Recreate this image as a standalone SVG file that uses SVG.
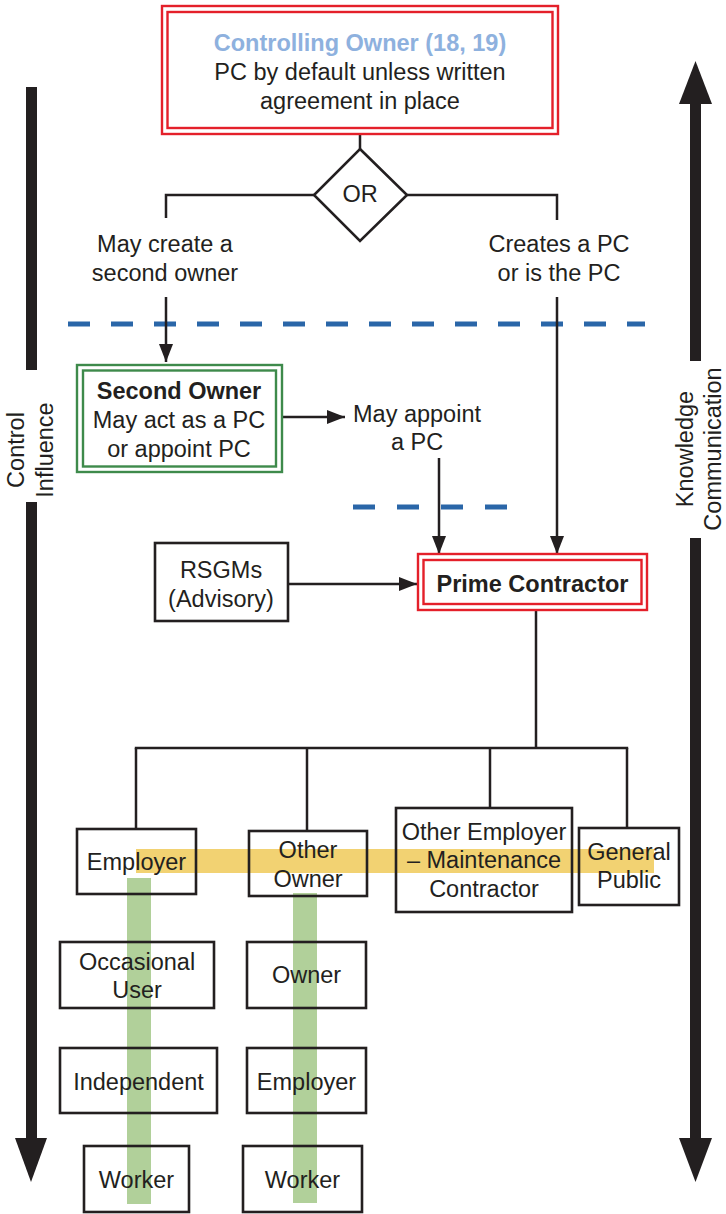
<svg xmlns="http://www.w3.org/2000/svg" width="726" height="1214" viewBox="0 0 726 1214">
  <defs>
    <style>
      text { font-family: "Liberation Sans", Arial, Helvetica, sans-serif; font-size: 23.5px; fill: #231f20; text-anchor: middle; }
      .bold { font-weight: bold; }
      .blue { fill: #8eb1de; }
      .box { fill: none; stroke: #231f20; stroke-width: 2.6; }
      .red { fill: none; stroke: #e4202a; stroke-width: 2.4; }
      .green { fill: none; stroke: #3e8a4b; stroke-width: 2.4; }
      .conn { fill: none; stroke: #231f20; stroke-width: 2.5; }
      .dash { fill: none; stroke: #2a66a8; stroke-width: 5; stroke-dasharray: 22 21; }
      .bar { fill: #231f20; }
    </style>
    <marker id="arrow" viewBox="0 0 18 14" refX="18" refY="7" markerWidth="18" markerHeight="14" markerUnits="userSpaceOnUse" orient="auto">
      <path d="M0,0 L18,7 L0,14 z" fill="#231f20"/>
    </marker>
  </defs>

  <rect width="726" height="1214" fill="#ffffff"/>

  <!-- side scale arrows -->
  <g id="control-influence-axis">
    <rect class="bar" x="26" y="87" width="11" height="283"/>
    <rect class="bar" x="26" y="502" width="11" height="638"/>
    <polygon class="bar" points="15,1138 47,1138 31,1182"/>
    <text transform="translate(24,450) rotate(-90)">Control</text>
    <text transform="translate(53,450) rotate(-90)">Influence</text>
  </g>
  <g id="knowledge-communication-axis">
    <polygon class="bar" points="679,104 712,104 695.5,61"/>
    <rect class="bar" x="690" y="103" width="11" height="258"/>
    <rect class="bar" x="690" y="538" width="11" height="602"/>
    <polygon class="bar" points="679,1138 712,1138 695.5,1182"/>
    <text transform="translate(693,449) rotate(-90)">Knowledge</text>
    <text transform="translate(721,449) rotate(-90)">Communication</text>
  </g>

  <!-- dashed boundaries -->
  <g id="boundaries">
    <line class="dash" x1="68" y1="324" x2="645" y2="324"/>
    <line class="dash" x1="353" y1="507" x2="507" y2="507" style="stroke-dasharray:22 22"/>
  </g>

  <!-- connectors -->
  <g id="connectors">
    <line class="conn" x1="360" y1="134" x2="360" y2="149"/>
    <polyline class="conn" points="314,195 166,195 166,218"/>
    <polyline class="conn" points="407,195 557,195 557,220"/>
    <line class="conn" x1="166" y1="297" x2="166" y2="362" marker-end="url(#arrow)"/>
    <line class="conn" x1="557" y1="297" x2="557" y2="554" marker-end="url(#arrow)"/>
    <line class="conn" x1="282" y1="417" x2="345" y2="417" marker-end="url(#arrow)"/>
    <line class="conn" x1="439" y1="458" x2="439" y2="554" marker-end="url(#arrow)"/>
    <line class="conn" x1="288" y1="584" x2="417" y2="584" marker-end="url(#arrow)"/>
    <line class="conn" x1="536" y1="610" x2="536" y2="748"/>
    <line class="conn" x1="134.8" y1="748" x2="628.2" y2="748"/>
    <line class="conn" x1="136" y1="748" x2="136" y2="829"/>
    <line class="conn" x1="307" y1="748" x2="307" y2="831"/>
    <line class="conn" x1="490" y1="748" x2="490" y2="808"/>
    <line class="conn" x1="627" y1="748" x2="627" y2="828"/>
  </g>

  <!-- highlight bands -->
  <g id="bands">
    <rect x="136" y="849" width="518" height="24" fill="#f2d272"/>
    <rect x="127" y="878" width="24" height="326" fill="#b1d09a"/>
    <rect x="293" y="893" width="24" height="310" fill="#b1d09a"/>
  </g>

  <!-- nodes -->
  <g id="controlling-owner">
    <rect class="red" x="162" y="6" width="396" height="128"/>
    <rect class="red" x="167.5" y="12" width="385" height="116"/>
    <text class="bold blue" x="360" y="51">Controlling Owner (18, 19)</text>
    <text x="360" y="80">PC by default unless written</text>
    <text x="360" y="109">agreement in place</text>
  </g>

  <g id="or-decision">
    <polygon class="box" points="360,149 407,195 360,241 314,195"/>
    <text x="360" y="202">OR</text>
  </g>

  <g id="label-second-owner-option">
    <text x="165" y="252">May create a</text>
    <text x="165" y="281">second owner</text>
  </g>

  <g id="label-pc-option">
    <text x="559" y="252">Creates a PC</text>
    <text x="559" y="281">or is the PC</text>
  </g>

  <g id="second-owner">
    <rect class="green" x="77" y="365" width="205" height="107"/>
    <rect class="green" x="83" y="370.5" width="193" height="96"/>
    <text class="bold" x="179" y="399">Second Owner</text>
    <text x="179" y="428">May act as a PC</text>
    <text x="179" y="457">or appoint PC</text>
  </g>

  <g id="label-may-appoint">
    <text x="417" y="422">May appoint</text>
    <text x="417" y="450">a PC</text>
  </g>

  <g id="rsgms">
    <rect class="box" x="155" y="543" width="133" height="78"/>
    <text x="221" y="578">RSGMs</text>
    <text x="221" y="607">(Advisory)</text>
  </g>

  <g id="prime-contractor">
    <rect class="red" x="418" y="554" width="229" height="56"/>
    <rect class="red" x="423.5" y="560" width="218" height="44"/>
    <text class="bold" x="532.5" y="592">Prime Contractor</text>
  </g>

  <g id="employer">
    <rect class="box" x="77" y="829" width="119" height="65"/>
    <text x="136.5" y="870">Employer</text>
  </g>

  <g id="other-owner">
    <rect class="box" x="249" y="831" width="118" height="65"/>
    <text x="308" y="858">Other</text>
    <text x="308" y="887">Owner</text>
  </g>

  <g id="other-employer">
    <rect class="box" x="396" y="808" width="176" height="104"/>
    <text x="484" y="840">Other Employer</text>
    <text x="484" y="868">– Maintenance</text>
    <text x="484" y="897">Contractor</text>
  </g>

  <g id="general-public">
    <rect class="box" x="579" y="828" width="100" height="77"/>
    <text x="629" y="860">General</text>
    <text x="629" y="888">Public</text>
  </g>

  <g id="occasional-user">
    <rect class="box" x="60" y="942" width="154" height="66"/>
    <text x="137" y="970">Occasional</text>
    <text x="137" y="998">User</text>
  </g>

  <g id="independent">
    <rect class="box" x="60" y="1048" width="157" height="65"/>
    <text x="138.5" y="1090">Independent</text>
  </g>

  <g id="worker-independent">
    <rect class="box" x="84" y="1146" width="105" height="66"/>
    <text x="136.5" y="1188">Worker</text>
  </g>

  <g id="owner">
    <rect class="box" x="247" y="942" width="119" height="66"/>
    <text x="306.5" y="983">Owner</text>
  </g>

  <g id="owner-employer">
    <rect class="box" x="247" y="1048" width="119" height="65"/>
    <text x="306.5" y="1090">Employer</text>
  </g>

  <g id="worker-owner">
    <rect class="box" x="243" y="1146" width="119" height="66"/>
    <text x="302.5" y="1188">Worker</text>
  </g>
</svg>
